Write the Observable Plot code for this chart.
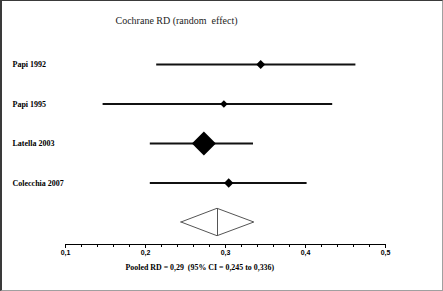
<!DOCTYPE html>
<html>
<head>
<meta charset="utf-8">
<script src="https://cdn.jsdelivr.net/npm/d3@7"></script>
<script src="https://cdn.jsdelivr.net/npm/@observablehq/plot@0.6"></script>
<style>
  html, body { margin: 0; padding: 0; background: #fff; }
  #wrap { position: relative; width: 443px; height: 291px; overflow: hidden; }
  #border { position: absolute; left: 0; top: 0; width: 443px; height: 291px; box-sizing: border-box;
    border-top: 1px solid #3a3a3a; border-left: 2px solid #3a3a3a; border-right: 1px solid #a0a0a0; border-bottom: 1px solid #a0a0a0;
    pointer-events: none; }
</style>
</head>
<body>
<div id="wrap"><div id="border"></div></div>
<script>
// ---- data ----
const studies = ["Papi 1992", "Papi 1995", "Latella 2003", "Colecchia 2007"];
const rd = [0.344, 0.298, 0.273, 0.304];
const ciLow = [0.214, 0.147, 0.206, 0.206];
const ciHigh = [0.463, 0.434, 0.335, 0.402];
const weights = [10, 7, 72, 11];
const pooledRD = 0.29;
const pooledLow = 0.245;
const pooledHigh = 0.336;
const majorTicks = [0.1, 0.2, 0.3, 0.4, 0.5];
const minorTicks = [0.12, 0.14, 0.16, 0.18, 0.22, 0.24, 0.26, 0.28, 0.32, 0.34, 0.36, 0.38, 0.42, 0.44, 0.46, 0.48];
const title = "Cochrane RD (random  effect)";
const caption = "Pooled RD = 0,29  (95% CI = 0,245 to 0,336)";

// ---- derived tables ----
const rows = studies.map((s, i) => ({study: s, i, rd: rd[i], lo: ciLow[i], hi: ciHigh[i], w: weights[i]}));
const pooledRow = studies.length;
const h = 0.347; // half-height of pooled diamond in row units
const pooledShape = [
  {x: pooledLow, y1: pooledRow, y2: pooledRow},
  {x: pooledRD, y1: pooledRow - h, y2: pooledRow + h},
  {x: pooledHigh, y1: pooledRow, y2: pooledRow}
];
const fmt = d => d3.format(".1f")(d).replace(".", ",");

const serif = "Liberation Serif, Times New Roman, serif";
const sans = "Liberation Sans, Arial, sans-serif";

const marks = [
  Plot.ruleY(rows, {y: "i", x1: "lo", x2: "hi", stroke: "#111", strokeWidth: 2}),
  Plot.dot(rows, {x: "rd", y: "i", r: "w", symbol: "diamond2", fill: "#000", stroke: "none"}),
  Plot.areaY(pooledShape, {x: "x", y1: "y1", y2: "y2", fill: "none", stroke: "#555", strokeWidth: 1}),
  Plot.ruleX([pooledRD], {x: d => d, y1: pooledRow - h, y2: pooledRow + h, stroke: "#555", strokeWidth: 1}),
  Plot.text(rows, {y: "i", text: "study", frameAnchor: "left", dx: -53, textAnchor: "start",
    fontFamily: serif, fontWeight: "bold", fontSize: 8, fill: "#000"}),
  Plot.text([title], {text: d => d, frameAnchor: "top-left", dx: 50, dy: 16, textAnchor: "start",
    fontFamily: serif, fontSize: 10, fill: "#222"}),
  Plot.text([caption], {text: d => d, frameAnchor: "bottom-left", dx: 60, dy: 25, textAnchor: "start",
    fontFamily: serif, fontWeight: "bold", fontSize: 7.9, fill: "#000"})
];

let xOpts = {domain: [0.1, 0.5], range: [65, 385]};
if (Plot.axisX) {
  marks.push(
    Plot.frame({anchor: "bottom", stroke: "#000"}),
    Plot.axisX(majorTicks, {tickSize: 4, tickPadding: 1.5, tickFormat: fmt, fontFamily: sans, fontWeight: "bold", fontSize: 7, stroke: "#000", fill: "#000"}),
    Plot.axisX(minorTicks, {tickSize: 3, tickFormat: () => "", stroke: "#000"})
  );
  xOpts.axis = null;
} else {
  Object.assign(xOpts, {ticks: majorTicks, tickSize: 4, tickFormat: fmt, line: true, label: null});
}

const chart = Plot.plot({
  width: 443,
  height: 291,
  marginLeft: 65,
  marginRight: 58,
  marginTop: 0,
  marginBottom: 47,
  style: {background: "transparent", whiteSpace: "pre", color: "#000"},
  x: xOpts,
  y: {type: "linear", domain: [0, 4], range: [64, 222], axis: null},
  r: {type: "sqrt", domain: [0, 72], range: [0, 10.8]},
  marks
});
document.getElementById("wrap").insertBefore(chart, document.getElementById("border"));
</script>
</body>
</html>
